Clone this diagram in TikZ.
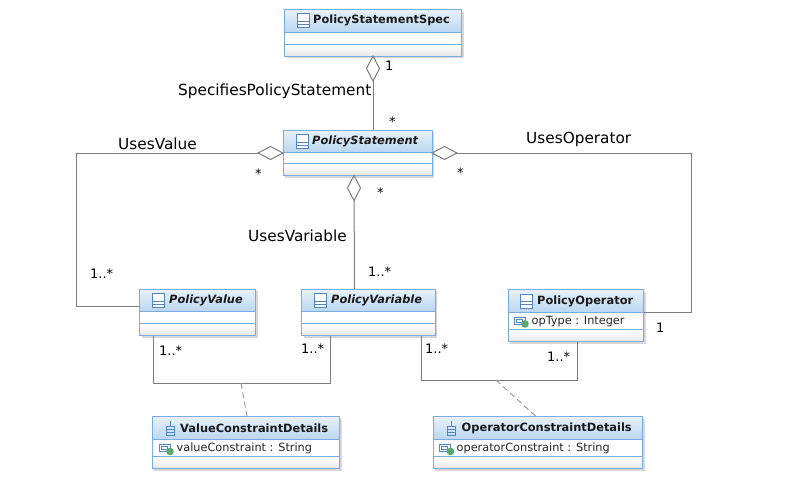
\documentclass[tikz,border=0pt]{standalone}
\usepackage{fontspec}
\setmainfont{DejaVu Sans}
\definecolor{edgeblue}{RGB}{120,172,226}
\definecolor{headtop}{RGB}{232,242,251}
\definecolor{headbot}{RGB}{186,214,240}
\definecolor{foottop}{RGB}{255,255,255}
\definecolor{footbot}{RGB}{232,232,232}
\definecolor{linegray}{RGB}{125,125,125}
\definecolor{shadowgray}{RGB}{215,215,215}
\definecolor{icongreen}{RGB}{90,170,110}
\definecolor{iconblue}{RGB}{80,135,195}
\tikzset{
  x=1pt,y=-1pt,
  boxframe/.style={draw=edgeblue,line width=1pt,inner sep=0pt,outer sep=0pt},
  title/.style={font=\fontsize{11.4}{13}\selectfont\bfseries,anchor=west,inner sep=0pt,text=black!90},
  ititle/.style={font=\fontsize{11.4}{13}\selectfont\bfseries\itshape,anchor=west,inner sep=0pt,text=black!90},
  attr/.style={font=\fontsize{11.3}{13}\selectfont,anchor=west,inner sep=0pt,text=black!85},
  lab/.style={font=\fontsize{15.3}{17}\selectfont,inner sep=0pt,text=black},
  mult/.style={font=\fontsize{13}{15}\selectfont,inner sep=0pt,text=black},
  conn/.style={draw=linegray,line width=1pt},
  dashconn/.style={draw=linegray!80,line width=.9pt,dash pattern=on 6pt off 3.5pt},
  aggr/.style={draw=linegray,line width=1pt,fill=white}
}
% name, left, top, head bottom, mid, foot-bottom line, right
\newcommand{\umlbox}[7]{%
  \fill[shadowgray] (#2+2,#3+2) rectangle (#7+2,#6+2);
  \fill[white] (#2,#3) rectangle (#7,#6);
  \shade[top color=headtop,bottom color=headbot] (#2,#3) rectangle (#7,#4);
  \shade[top color=foottop,bottom color=footbot] (#2,#5+.6) rectangle (#7,#6);
  \node[boxframe,minimum width=#7pt-#2pt,minimum height=#6pt-#3pt,anchor=north west] (#1) at (#2,#3) {};
  \draw[edgeblue,line width=1.1pt] (#2,#4) -- (#7,#4);
  \draw[edgeblue,line width=1.1pt] (#2,#5) -- (#7,#5);
}
\newcommand{\classicon}[2]{%
  \fill[white] (#1,#2-7) rectangle (#1+12,#2+7);
  \draw[iconblue,line width=.9pt] (#1,#2-7) rectangle (#1+12,#2+7) (#1,#2+.5) -- (#1+12,#2+.5) (#1,#2+3.5) -- (#1+12,#2+3.5);
}
\newcommand{\dticon}[2]{%
  \draw[iconblue,line width=.9pt] (#1+1,#2-2) rectangle (#1+9,#2+7) (#1+1,#2+1.5) -- (#1+9,#2+1.5) (#1+1,#2+4.5) -- (#1+9,#2+4.5) (#1+5,#2-2) -- (#1+5,#2-7);
}
\newcommand{\attricon}[2]{%
  \draw[iconblue,line width=.8pt,fill=white] (#1,#2-4) rectangle (#1+11,#2+3);
  \draw[iconblue,line width=.7pt] (#1+2,#2-2) rectangle (#1+8,#2+1);
  \fill[icongreen] (#1+11,#2+3) circle (3.8);
}
\begin{document}
\begin{tikzpicture}
\useasboundingbox[fill=white] (0,0) rectangle (806,501);
\coordinate (uvA) at (76,153);
\coordinate (uvB) at (76,306);
\coordinate (uoA) at (691,153);
\coordinate (uoB) at (691,312);
\coordinate (vvA) at (153.5,383);
\coordinate (vvB) at (330.5,383);
\coordinate (voA) at (421.5,380);
\coordinate (voB) at (577.5,380);
\coordinate (vvM) at (241,383);
\coordinate (voM) at (496,380);

\umlbox{spec}{284.5}{9.5}{32.5}{44.5}{56}{461.5}
\umlbox{ps}{283}{130}{152.5}{163.5}{175.5}{432}
\umlbox{pval}{139.5}{289}{311.5}{323.5}{335.5}{255.5}
\umlbox{pvar}{301.5}{289}{311.5}{323.5}{335.5}{435}
\umlbox{pop}{508}{289.5}{312.5}{329.5}{341.5}{643.5}
\umlbox{vcd}{152}{416.5}{439.5}{456.5}{468.5}{339.5}
\umlbox{ocd}{433}{416.5}{439.5}{456.5}{468.5}{642.5}

% connectors
\draw[conn] (spec.south) -- ([xshift=15.5pt]ps.north);
\path[aggr] (spec.south) -- ++(6.5,12.5) -- ++(-6.5,12.5) -- ++(-6.5,-12.5) -- cycle;
\draw[conn] (ps.west |- uvA) -- (uvA) -- (uvB) -- (pval.west |- uvB);
\path[aggr] (ps.west |- uvA) -- ++(-12.5,-6.5) -- ++(-12.5,6.5) -- ++(12.5,6.5) -- cycle;
\draw[conn] (ps.east |- uoA) -- (uoA) -- (uoB) -- (pop.east |- uoB);
\path[aggr] (ps.east |- uoA) -- ++(12.5,-6.5) -- ++(12.5,6.5) -- ++(-12.5,6.5) -- cycle;
\draw[conn] ([xshift=-3.5pt]ps.south) -- ([xshift=-13.75pt]pvar.north);
\path[aggr] ([xshift=-3.5pt]ps.south) -- ++(6.5,12.5) -- ++(-6.5,12.5) -- ++(-6.5,-12.5) -- cycle;
\draw[conn] (pval.south -| vvA) -- (vvA) -- (vvB) -- (pvar.south -| vvB);
\draw[conn] (pvar.south -| voA) -- (voA) -- (voB) -- (pop.south -| voB);
\draw[dashconn] (vvM) -- (vcd.north -| 247,0);
\draw[dashconn] (voM) -- (ocd.north -| 536,0);

% titles
\classicon{297.5}{20.5}
\node[title] at (313,20.5) {PolicyStatementSpec};
\classicon{296}{141.5}
\node[ititle] at (312,141.5) {PolicyStatement};
\classicon{152.5}{300.5}
\node[ititle] at (169,300.5) {PolicyValue};
\classicon{314.5}{300.5}
\node[ititle] at (331,300.5) {PolicyVariable};
\classicon{520.5}{301}
\node[title] at (537,301) {PolicyOperator};
\dticon{165}{428}
\node[title] at (180,428) {ValueConstraintDetails};
\dticon{446}{428}
\node[title] at (461.5,428) {OperatorConstraintDetails};
% attributes
\attricon{514}{321}
\node[attr] at (531.5,321.5) {opType : Integer};
\attricon{159}{448.5}
\node[attr] at (176.5,448.5) {valueConstraint : String};
\attricon{439.5}{448.5}
\node[attr] at (456.5,448.5) {operatorConstraint : String};
% labels
\node[lab,anchor=west] at (178,91.5) {SpecifiesPolicyStatement};
\node[lab,anchor=west] at (118,143.5) {UsesValue};
\node[lab,anchor=west] at (526,139.5) {UsesOperator};
\node[lab,anchor=west] at (248,235.5) {UsesVariable};
% multiplicities
\node[mult,anchor=west] at (385,66) {1};
\node[mult,anchor=west] at (389,122) {*};
\node[mult,anchor=west] at (255,174) {*};
\node[mult,anchor=west] at (457,173) {*};
\node[mult,anchor=west] at (377,193) {*};
\node[mult,anchor=west] at (90,274) {1..*};
\node[mult,anchor=west] at (368,272) {1..*};
\node[mult,anchor=west] at (159,351) {1..*};
\node[mult,anchor=west] at (301,349) {1..*};
\node[mult,anchor=west] at (425,349) {1..*};
\node[mult,anchor=west] at (547,357) {1..*};
\node[mult,anchor=west] at (656,328) {1};
\end{tikzpicture}
\end{document}
